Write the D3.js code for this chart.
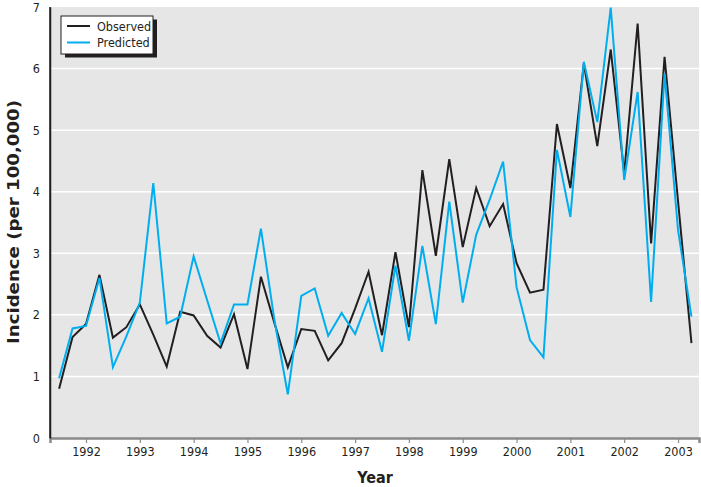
<!DOCTYPE html>
<html>
<head>
<meta charset="utf-8">
<script src="https://cdn.jsdelivr.net/npm/d3@7"></script>
<style>
  html, body { margin: 0; padding: 0; background: #fff; }
  svg { display: block; }
  text { font-family: "Liberation Sans Narrow", "Arial Narrow", "DejaVu Sans Condensed", sans-serif; }
</style>
</head>
<body>
<svg id="chart" width="701" height="487"></svg>
<script>
// Quarterly time points (year + fraction)
const times = d3.range(48).map(i => 1991.5 + i * 0.25);

const observed = [
  0.80, 1.64, 1.85, 2.65, 1.63, 1.80, 2.17, 1.68,
  1.16, 2.05, 1.99, 1.66, 1.47, 2.01, 1.12, 2.62,
  1.87, 1.15, 1.77, 1.74, 1.26, 1.54, 2.10, 2.70,
  1.67, 3.02, 1.80, 4.35, 2.96, 4.53, 3.10, 4.06,
  3.44, 3.80, 2.84, 2.36, 2.41, 5.10, 4.06, 6.08,
  4.74, 6.31, 4.30, 6.73, 3.16, 6.19, 3.85, 1.54
];

const predicted = [
  0.97, 1.78, 1.82, 2.60, 1.15, 1.65, 2.20, 4.14,
  1.86, 1.97, 2.95, 2.24, 1.54, 2.17, 2.17, 3.40,
  1.92, 0.71, 2.31, 2.43, 1.66, 2.03, 1.69, 2.27,
  1.40, 2.80, 1.58, 3.12, 1.85, 3.84, 2.20, 3.30,
  3.87, 4.49, 2.45, 1.59, 1.31, 4.68, 3.59, 6.11,
  5.13, 6.99, 4.19, 5.62, 2.21, 5.92, 3.38, 1.97
];

const yearTicks = d3.range(1992, 2004);
const yTicks = d3.range(0, 8);
const seriesNames = ["Observed", "Predicted"];
const seriesColors = ["#231f20", "#00aeef"];

const svg = d3.select("#chart");
const pLeft = 50, pRight = 699, pTop = 7, pBottom = 438;
const FONT = "'Liberation Sans Narrow', 'Arial Narrow', 'DejaVu Sans Condensed', sans-serif";

const x = d3.scaleLinear().domain([1991.331, 2003.39]).range([pLeft, pRight]);
const y = d3.scaleLinear().domain([0, 7]).range([pBottom, pTop]);

// background
svg.append("rect")
  .attr("x", pLeft).attr("y", pTop)
  .attr("width", pRight - pLeft).attr("height", pBottom - pTop)
  .attr("fill", "#e6e6e7");

// gridlines
svg.append("g").selectAll("line")
  .data(yTicks.filter(d => d > 0 && d < 7))
  .join("line")
  .attr("x1", pLeft).attr("x2", pRight)
  .attr("y1", d => y(d)).attr("y2", d => y(d))
  .attr("stroke", "#ffffff").attr("stroke-width", 1.5);

// x axis
const xAxis = d3.axisBottom(x).tickValues(yearTicks).tickFormat(d3.format("d")).tickSize(5).tickPadding(4);
const gx = svg.append("g").attr("transform", `translate(0,${pBottom})`).call(xAxis);
gx.select(".domain").attr("stroke", "#8a8a8a").attr("stroke-width", 2.5);
gx.selectAll(".tick line").attr("stroke", "#8a8a8a").attr("stroke-width", 1.2);
gx.selectAll(".tick text").attr("fill", "#231f20").attr("font-size", 12.5).style("font-family", FONT);

// y axis
const yAxis = d3.axisLeft(y).tickValues(yTicks).tickFormat(d3.format("d")).tickSize(0).tickPadding(10);
const gy = svg.append("g").attr("transform", `translate(${pLeft},0)`).call(yAxis);
gy.select(".domain").attr("stroke", "#231f20").attr("stroke-width", 1.5);
gy.selectAll(".tick text").attr("fill", "#231f20").attr("font-size", 12.5).style("font-family", FONT);

// lines
const line = d3.line().x((d, i) => x(times[i])).y(d => y(d));
[observed, predicted].forEach((s, k) => {
  svg.append("path")
    .datum(s)
    .attr("fill", "none")
    .attr("stroke", seriesColors[k])
    .attr("stroke-width", 2)
    .attr("stroke-linejoin", "miter")
    .attr("d", line);
});

// left axis line on top
svg.append("line").attr("x1", pLeft).attr("x2", pLeft).attr("y1", pTop).attr("y2", pBottom)
  .attr("stroke", "#231f20").attr("stroke-width", 1.5);

// axis titles
svg.append("text")
  .attr("transform", `translate(19,222) rotate(-90)`)
  .attr("text-anchor", "middle")
  .attr("font-size", 15).attr("font-weight", "bold").attr("fill", "#231f20")
  .attr("textLength", 244).attr("lengthAdjust", "spacingAndGlyphs")
  .text("Incidence (per 100,000)");

svg.append("text")
  .attr("x", 375).attr("y", 483)
  .attr("text-anchor", "middle")
  .attr("font-size", 16).attr("font-weight", "bold").attr("fill", "#231f20")
  .text("Year");

// legend
const lg = svg.append("g").attr("transform", "translate(61,16)");
lg.append("rect").attr("x", 4).attr("y", 3.5).attr("width", 92).attr("height", 38).attr("fill", "#231f20");
lg.append("rect").attr("x", 0).attr("y", 0).attr("width", 92).attr("height", 38)
  .attr("fill", "#ffffff").attr("stroke", "#231f20").attr("stroke-width", 1);
seriesNames.forEach((name, i) => {
  const yy = 10 + i * 16.5;
  lg.append("line").attr("x1", 6).attr("x2", 29).attr("y1", yy).attr("y2", yy)
    .attr("stroke", seriesColors[i]).attr("stroke-width", 2);
  lg.append("text").attr("x", 36).attr("y", yy + 4.5)
    .attr("font-size", 12.5).attr("fill", "#231f20").text(name);
});
</script>
</body>
</html>
